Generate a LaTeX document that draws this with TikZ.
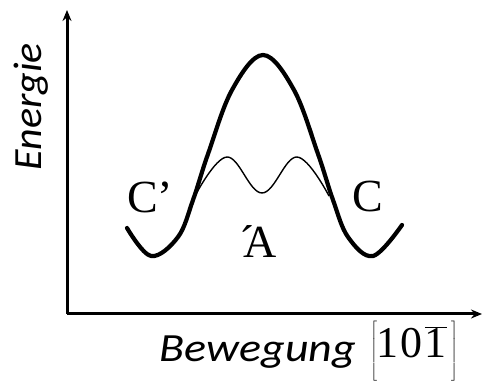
\documentclass[tikz,border=0pt]{standalone}
\usepackage{fontspec}
\usetikzlibrary{arrows.meta}
\newfontfamily\labsans{Carlito}
\newfontfamily\labserif{Liberation Serif}

\begin{document}
\begin{tikzpicture}[x=1pt,y=1pt,>={Stealth[length=11pt,width=9pt]},
 axis/.style={line width=3pt},
 thick curve/.style={line width=4.2pt,line join=round,line cap=round},
 thin curve/.style={line width=1.4pt},
 axlabel/.style={font=\labsans\itshape\fontsize{40}{44}\selectfont,inner sep=0pt},
 statelab/.style={font=\labserif\fontsize{46}{50}\selectfont,inner sep=0pt}]
\useasboundingbox (0,0) rectangle (484,382);
\coordinate (O) at (67,68);
\coordinate (ytop) at (67,372);
\coordinate (xend) at (482,68);
\draw[axis,->] (O) -- (ytop);
\draw[axis,->] (O) -- (xend);
% energy curves
\draw[thick curve] plot[smooth,tension=0.6] coordinates {(127,154) (151,126) (178,145) (193,182) (208,228) (232,292) (263,327) (294,292) (318,228) (333,182) (348,145) (373,126) (402,157)};
\draw[thin curve] plot[smooth,tension=0.65] coordinates {(195,186) (227,225) (262,189) (297,225) (329,186)};
\node[axlabel,rotate=90,xscale=1.05] (energy) at (31,275) {Energie};
\node[axlabel,xscale=1.15] (motion) at (258,30) {Bewegung};
\node[font=\labserif\fontsize{44}{48}\selectfont,inner sep=0pt] (dir) at (414,31) {$\left[\rule[-4pt]{0pt}{40pt}\mbox{1\kern2pt0\kern2pt}\overline{\mbox{1}}\,\right]$};
\node[statelab] (cl) at (150,185) {C’};
\node[statelab] (cr) at (368,185) {C};
\node[statelab] (a) at (258,140) {´\kern-11ptA};
\end{tikzpicture}
\end{document}
